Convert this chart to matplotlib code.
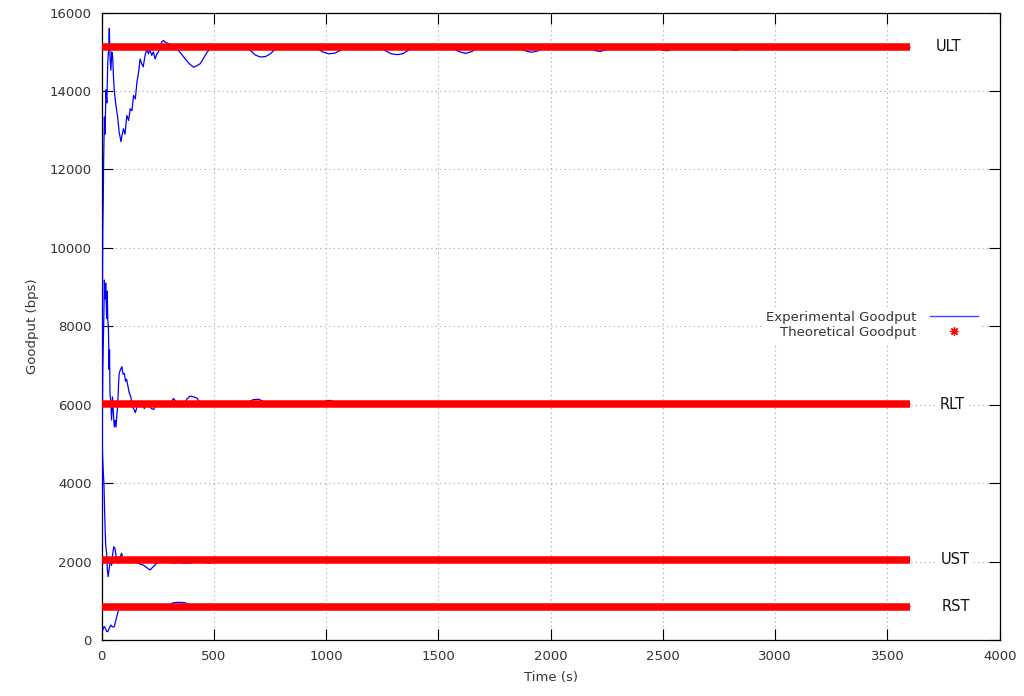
import matplotlib
matplotlib.use("Agg")
import matplotlib.pyplot as plt
from matplotlib.lines import Line2D

# theoretical goodput levels (bps), drawn from t=0 to t=3600
names = ["ULT", "RLT", "UST", "RST"]
theo = [15130, 6010, 2050, 850]
theo_t = [0, 3600]

# experimental goodput
ult_t = [1, 3, 5, 7, 9, 12, 15, 19, 23, 27, 31, 34, 37, 41, 45, 49, 53, 56, 62, 71,
         78, 86, 90, 97, 104, 112, 120, 127, 135, 142, 150, 157, 165, 171, 178, 185,
         193, 201, 208, 215, 223, 230, 238, 246, 253, 261, 268, 275, 283, 298, 315,
         335, 355, 372, 390, 409, 425, 439, 455, 469, 491, 520, 543, 570, 603, 630,
         662, 684, 706, 730, 751, 770, 781, 841, 900, 959, 985, 1011, 1040, 1063,
         1093, 1240, 1267, 1290, 1316, 1340, 1366, 1390, 1560, 1590, 1620, 1650,
         1670, 1860, 1890, 1915, 1945, 1965, 2170, 2200, 2220, 2250, 2470, 2500,
         2520, 2545, 2780, 2810, 2830, 2860, 3100, 3115, 3130, 3600]
ult_y = [4000, 8500, 10450, 11220, 12320, 13340, 12900, 14030, 13700, 14710, 15100,
         15600, 14900, 14530, 15000, 14870, 14300, 14030, 13700, 13340, 12950, 12710,
         12850, 13040, 12900, 13380, 13250, 13550, 13500, 13890, 13800, 14230, 14500,
         14820, 14700, 14620, 14900, 15080, 14950, 15050, 14910, 15000, 14820, 14950,
         15000, 15160, 15260, 15290, 15250, 15210, 15150, 15080, 14950, 14820, 14700,
         14610, 14650, 14700, 14850, 14990, 15120, 15060, 15080, 15150, 15160, 15100,
         15040, 14920, 14870, 14880, 14950, 15050, 15130, 15120, 15100, 15080, 15000,
         14950, 14970, 15040, 15130, 15100, 15020, 14950, 14930, 14950, 15040, 15110,
         15100, 15010, 14960, 15010, 15100, 15100, 15020, 14990, 15030, 15100, 15100,
         15030, 15010, 15060, 15110, 15040, 15030, 15090, 15110, 15050, 15040, 15100,
         15100, 15055, 15100, 15110]

rlt_t = [1, 3, 5, 8, 10, 12, 15, 18, 22, 25, 27, 30, 33, 35, 37, 41, 44, 48, 52, 56,
         60, 64, 67, 71, 75, 78, 84, 90, 95, 101, 106, 111, 116, 123, 130, 137, 145,
         150, 160, 170, 180, 190, 200, 210, 222, 231, 245, 261, 280, 300, 320, 335,
         350, 365, 380, 394, 410, 424, 438, 446, 460, 500, 600, 650, 675, 700, 720,
         750, 980, 1000, 1020, 1040, 1100, 3600]
rlt_y = [2500, 5600, 6890, 7800, 8400, 9180, 8700, 9100, 8200, 8900, 8160, 7980, 6900,
         7400, 6300, 6040, 5610, 6200, 5800, 5430, 5600, 5430, 5700, 5940, 6500, 6800,
         6900, 6970, 6780, 6800, 6600, 6650, 6500, 6300, 6200, 5950, 5870, 5800, 6000,
         5950, 6020, 5900, 6050, 5980, 5900, 5880, 6000, 6010, 6050, 6000, 6160, 6050,
         5950, 6000, 6150, 6220, 6200, 6170, 6050, 5950, 6000, 6010, 6030, 6060, 6130,
         6140, 6080, 6020, 6020, 6100, 6110, 6060, 6030, 6020]

ust_t = [1, 4, 7, 10, 13, 15, 18, 22, 25, 29, 33, 37, 40, 44, 49, 54, 59, 64, 69, 74,
         80, 89, 95, 101, 111, 125, 140, 160, 185, 200, 215, 230, 245, 265, 290, 320,
         345, 364, 400, 440, 480, 520, 560, 600, 3600]
ust_y = [5400, 4700, 4300, 3995, 3300, 2890, 2400, 2210, 1800, 1615, 1800, 2000, 2040,
         1900, 2200, 2380, 2340, 2150, 2050, 1955, 2100, 2210, 2050, 2000, 2000, 1960,
         2020, 1960, 1910, 1850, 1785, 1870, 1955, 1990, 2000, 1960, 1980, 1955, 1970,
         1990, 1960, 2000, 1980, 2040, 2040]

rst_t = [1, 5, 9, 12, 18, 22, 27, 34, 41, 48, 56, 62, 67, 72, 78, 85, 120, 200, 260,
         300, 320, 345, 371, 390, 410, 500, 3600]
rst_y = [300, 250, 330, 340, 280, 220, 210, 300, 380, 330, 340, 480, 590, 700, 810,
         870, 860, 850, 880, 900, 950, 960, 950, 900, 860, 850, 850]

label_x = [3774, 3787, 3800, 3805]

xticks = [0, 500, 1000, 1500, 2000, 2500, 3000, 3500, 4000]
yticks = [0, 2000, 4000, 6000, 8000, 10000, 12000, 14000, 16000]

plt.rcParams["font.family"] = ["DejaVu Sans"]

fig = plt.figure(figsize=(10.24, 6.96), dpi=100)
ax = fig.add_axes([0.0993, 0.0805, 0.8770, 0.9013])

for t, y in [(ult_t, ult_y), (rlt_t, rlt_y), (ust_t, ust_y), (rst_t, rst_y)]:
    ax.plot(t, y, color="#0000ff", lw=0.9, zorder=3)

for lvl in theo:
    ax.plot(theo_t, [lvl, lvl], color="red", lw=5.4, solid_capstyle="butt", zorder=4)

for name, lvl, lx in zip(names, theo, label_x):
    ax.text(lx, lvl, name, ha="center", va="center", fontsize=10.5, color="#111111",
            bbox=dict(fc="white", ec="none", pad=1.5), zorder=5)

ax.set_xlim(0, 4000)
ax.set_ylim(0, 16000)
ax.set_xticks(xticks)
ax.set_yticks(yticks)
ax.set_xticklabels([str(v) for v in xticks])
ax.set_yticklabels([str(v) for v in yticks])
ax.tick_params(direction="in", length=7.7, width=0.8, top=True, right=True,
               labelsize=9.5, labelcolor="#333333", pad=7)
ax.grid(True, color="#a0a0a0", lw=0.8, linestyle=(0, (1, 3)))
ax.set_axisbelow(True)
for sp in ax.spines.values():
    sp.set_linewidth(0.9)

ax.set_xlabel("Time (s)", fontsize=9.5, color="#333333", labelpad=6)
ax.set_ylabel("Goodput (bps)", fontsize=9.5, color="#333333", labelpad=8)

handles = [
    Line2D([], [], color="#4444ff", lw=1.0),
    Line2D([], [], color="red", ls="none", marker=(8, 2, 0), ms=6, mew=0.9),
]
leg = ax.legend(handles, ["Experimental Goodput", "Theoretical Goodput"],
                loc="center right", bbox_to_anchor=(0.988, 0.502),
                markerfirst=False, fontsize=9.5, handlelength=3.7,
                handletextpad=1.0, labelspacing=0.15, borderpad=0.3,
                frameon=True, fancybox=False, framealpha=1.0)
leg.get_frame().set_edgecolor("none")
leg.get_frame().set_facecolor("white")
for t in leg.get_texts():
    t.set_color("#333333")

fig.savefig("out.png", dpi=100)
